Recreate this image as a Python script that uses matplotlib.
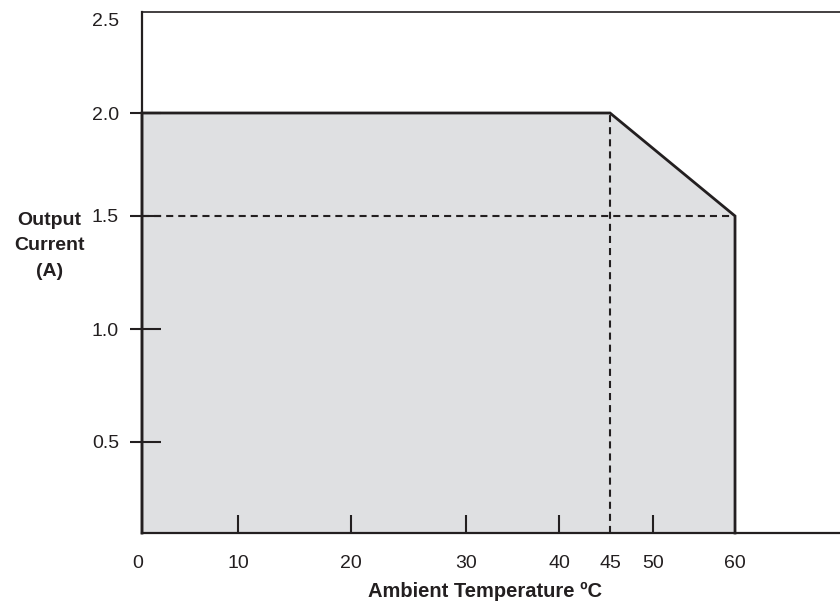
import numpy as np
import matplotlib
matplotlib.use("Agg")
import matplotlib.pyplot as plt
import matplotlib.transforms as mtransforms
from matplotlib.ticker import FixedLocator

# derating curve: output current vs ambient temperature
temp = [0, 0, 45, 60, 60]
current = [0, 2.0, 2.0, 1.5, 0]
knee_temp = 45
end_current = 1.5

x_ticks = [0, 10, 20, 30, 40, 45, 50, 60]
x_labels = ["0", "10", "20", "30", "40", "45", "50", "60"]
x_marks = [10, 20, 30, 40, 50]
y_ticks = [0.5, 1.0, 1.5, 2.0, 2.5]
y_labels = ["0.5", "1.0", "1.5", "2.0", "2.5"]
y_marks = [0.5, 1.0, 1.5, 2.0]

# the printed chart is not evenly spaced, so use a warped scale
x_knots = np.array([0, 10, 20, 30, 40, 45, 50, 60, 80])
x_warp = np.array([0, 96, 209, 324, 417, 468, 511, 593, 769])
y_knots = np.array([0, 0.5, 1.0, 1.5, 2.0, 2.5, 3.0])
y_warp = np.array([0, 91, 204, 317, 420, 521, 622])

ink = "#231f20"
fill = "#dfe0e2"
plt.rcParams["font.family"] = ["Liberation Sans", "DejaVu Sans"]

fig = plt.figure(figsize=(8.4, 6.05), dpi=100)
ax = fig.add_axes([142 / 840, 72 / 605, 698 / 840, 521 / 605])

ax.set_xscale("function", functions=(lambda t: np.interp(t, x_knots, x_warp),
                                     lambda p: np.interp(p, x_warp, x_knots)))
ax.set_yscale("function", functions=(lambda v: np.interp(v, y_knots, y_warp),
                                     lambda p: np.interp(p, y_warp, y_knots)))
ax.set_xlim(0, 71.93)
ax.set_ylim(0, 2.5)

ax.fill(temp, current, color=fill, lw=0, zorder=1)
ax.plot(temp, current, color=ink, lw=2.0, solid_joinstyle="miter", zorder=3, clip_on=False)

dash = (3.4, 2.4)
ax.plot([0, 60], [end_current, end_current], color=ink, lw=1.5, dashes=dash, zorder=2)
ax.plot([knee_temp, knee_temp], [0, 2.0], color=ink, lw=1.5, dashes=dash, zorder=2)

for side in ["left", "bottom", "top"]:
    ax.spines[side].set_color(ink)
ax.spines["left"].set_linewidth(1.6)
ax.spines["bottom"].set_linewidth(1.6)
ax.spines["top"].set_linewidth(1.2)
ax.spines["right"].set_visible(False)

ax.xaxis.set_major_locator(FixedLocator(x_ticks))
ax.set_xticklabels(x_labels)
ax.yaxis.set_major_locator(FixedLocator(y_ticks))
ax.set_yticklabels(y_labels)
ax.yaxis.set_minor_locator(FixedLocator(y_marks))
ax.yaxis.remove_overlapping_locs = False
ax.xaxis.set_minor_locator(FixedLocator([]))

ax.tick_params(axis="x", which="major", direction="in", length=13, width=1.5,
               color=ink, pad=16, labelsize=14, labelcolor=ink)
ax.tick_params(axis="y", which="major", direction="out", length=8.6, width=1.5,
               color=ink, pad=8, labelsize=14, labelcolor=ink)
ax.tick_params(axis="y", which="minor", direction="in", length=13.7, width=1.5,
               color=ink)

for t, v in zip(ax.xaxis.get_major_ticks(), x_ticks):
    if v not in x_marks:
        t.tick1line.set_visible(False)
for t, v in zip(ax.yaxis.get_major_ticks(), y_ticks):
    if v not in y_marks:
        t.tick1line.set_visible(False)

# the 2.5 label sits a little under the top line
top_lab = ax.yaxis.get_major_ticks()[-1].label1
top_lab.set_transform(top_lab.get_transform() +
                      mtransforms.ScaledTranslation(0, -7 / 100, fig.dpi_scale_trans))
zero_lab = ax.xaxis.get_major_ticks()[0].label1
zero_lab.set_transform(zero_lab.get_transform() +
                       mtransforms.ScaledTranslation(-4 / 100, 0, fig.dpi_scale_trans))

ax.set_xlabel("Ambient Temperature ºC", fontsize=14.5, fontweight="bold", color=ink, va="center")
ax.xaxis.set_label_coords(0.491, -0.113)
ax.set_ylabel("Output\nCurrent\n(A)", rotation=0, fontsize=14, fontweight="bold",
              color=ink, ha="center", va="center", linespacing=1.65)
ax.yaxis.set_label_coords(-0.133, 0.551)

fig.savefig("out.png", dpi=100)
